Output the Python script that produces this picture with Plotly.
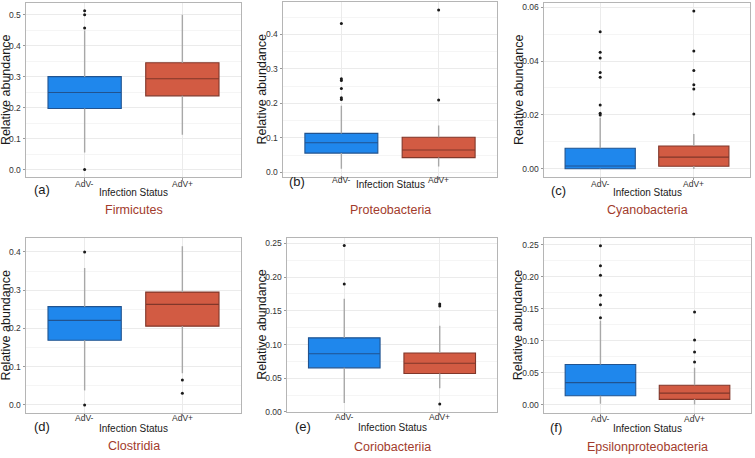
import plotly.graph_objects as go

# ---------------- data ----------------
PANEL_NAMES = ["Firmicutes", "Proteobacteria", "Cyanobacteria",
               "Clostridia", "Coriobacteriia", "Epsilonproteobacteria"]
PANEL_LETTERS = ["(a)", "(b)", "(c)", "(d)", "(e)", "(f)"]
CATEGORIES = ["AdV-", "AdV+"]

# AdV- box statistics
NEG_LOW = [0.055, 0.0105, 0.0000, 0.038, 0.0132, 0.0020]
NEG_Q1 = [0.197, 0.056, 0.0001, 0.169, 0.0654, 0.0143]
NEG_MED = [0.249, 0.086, 0.0011, 0.221, 0.0864, 0.0348]
NEG_Q3 = [0.300, 0.113, 0.0077, 0.257, 0.1099, 0.0630]
NEG_HIGH = [0.449, 0.193, 0.0190, 0.358, 0.1680, 0.1310]
NEG_OUT = [
    [0.513, 0.500, 0.457, 0.0],
    [0.431, 0.271, 0.266, 0.243, 0.216, 0.211],
    [0.0508, 0.0432, 0.0411, 0.0357, 0.0340, 0.0237, 0.0206, 0.0200],
    [0.400, 0.0],
    [0.247, 0.190],
    [0.248, 0.217, 0.202, 0.171, 0.156, 0.136],
]

# AdV+ box statistics
POS_LOW = [0.112, 0.017, 0.0000, 0.083, 0.035, 0.0005]
POS_Q1 = [0.238, 0.043, 0.0010, 0.206, 0.0571, 0.0087]
POS_MED = [0.293, 0.065, 0.0044, 0.263, 0.0723, 0.0184]
POS_Q3 = [0.345, 0.102, 0.0085, 0.295, 0.0874, 0.0307]
POS_HIGH = [0.500, 0.136, 0.0130, 0.415, 0.128, 0.058]
POS_OUT = [
    [],
    [0.470, 0.210],
    [0.0585, 0.0437, 0.0365, 0.0312, 0.0296, 0.0204],
    [0.065, 0.031],
    [0.160, 0.157, 0.0117],
    [0.145, 0.101, 0.0825, 0.067],
]

Y_TICK_STEP = [0.1, 0.1, 0.02, 0.1, 0.05, 0.05]
Y_TICK_FORMAT = [".1f", ".1f", ".2f", ".1f", ".2f", ".2f"]

# ---------------- layout (pixels) ----------------
W, H = 755, 458
FRAMES = [(26, 241, 1.8, 178.8), (283, 497, 1.2, 178.1), (544, 750, 2.2, 178.2),
          (26, 241, 240.4, 417.4), (287, 497, 239.7, 416.4), (544, 751, 240.0, 417.0)]
XLABEL_Y = [185, 181, 185, 423, 422, 424]
LETTER_POS = [(42, 191), (297, 183), (558, 192), (42, 431), (303, 431), (556, 432)]
XTITLE_Y = [194, 186, 194, 433, 432, 433]
SUB_Y = [212, 212, 212, 451, 452, 452]
YTITLE_X = [6, 262, 519, 6, 262, 518]

FONT = "Liberation Sans, Arial, sans-serif"
BLUE, RED = "#1F87EC", "#D25B43"
BLUE_LINE, RED_LINE = "#21538F", "#80372A"
WHISKER = "#A8A8A8"
GRID, MINOR = "#EBEBEB", "#F5F5F5"
FRAME = "#B5B5B5"
SUB_COLOR = "#A23B2C"
TICK_TEXT = "#333333"

fig = go.Figure()
annotations = []


def px_x(v):
    return v / W


def px_y(v):
    return 1 - v / H


for i in range(6):
    sfx = "" if i == 0 else str(i + 1)
    xa, ya = "x" + sfx, "y" + sfx
    stats = [
        (CATEGORIES[0], NEG_LOW[i], NEG_Q1[i], NEG_MED[i], NEG_Q3[i], NEG_HIGH[i], NEG_OUT[i], BLUE, BLUE_LINE),
        (CATEGORIES[1], POS_LOW[i], POS_Q1[i], POS_MED[i], POS_Q3[i], POS_HIGH[i], POS_OUT[i], RED, RED_LINE),
    ]
    for cat, lo, q1, med, q3, hi, outs, fill, lc in stats:
        fig.add_trace(go.Scatter(
            x=[cat, cat, None, cat, cat], y=[lo, q1, None, q3, hi],
            mode="lines", line=dict(color=WHISKER, width=1.4),
            xaxis=xa, yaxis=ya, hoverinfo="skip", showlegend=False))
    for cat, lo, q1, med, q3, hi, outs, fill, lc in stats:
        fig.add_trace(go.Box(
            x=[cat], q1=[q1], median=[med], q3=[q3],
            lowerfence=[q1], upperfence=[q3],
            fillcolor=fill, line=dict(color=lc, width=1.1),
            width=0.75, whiskerwidth=0, boxpoints=False,
            xaxis=xa, yaxis=ya, hoverinfo="skip", showlegend=False))
    for cat, lo, q1, med, q3, hi, outs, fill, lc in stats:
        if outs:
            fig.add_trace(go.Scatter(
                x=[cat] * len(outs), y=outs, mode="markers",
                marker=dict(color="#1A1A1A", size=3),
                xaxis=xa, yaxis=ya, hoverinfo="skip", showlegend=False))

    allv = ([NEG_LOW[i], NEG_HIGH[i], POS_LOW[i], POS_HIGH[i]]
            + NEG_OUT[i] + POS_OUT[i])
    vmin, vmax = min(allv), max(allv)
    pad = 0.05 * (vmax - vmin)
    l, r, t, b = FRAMES[i]
    step = Y_TICK_STEP[i]

    fig.layout["xaxis" + sfx] = dict(
        domain=[px_x(l), px_x(r)], anchor=ya, type="category",
        categoryorder="array", categoryarray=CATEGORIES,
        range=[-0.6, 1.6], showgrid=True, gridcolor=GRID, gridwidth=1,
        ticks="outside", ticklen=2.5, tickcolor="#999999", tickwidth=1,
        showticklabels=False,
        showline=True, mirror=True, linecolor=FRAME, linewidth=1,
        zeroline=False, fixedrange=True)
    fig.layout["yaxis" + sfx] = dict(
        domain=[px_y(b), px_y(t)], anchor=xa,
        range=[vmin - pad, vmax + pad], tick0=0, dtick=step,
        tickformat=Y_TICK_FORMAT[i],
        showgrid=True, gridcolor=GRID, gridwidth=1,
        minor=dict(dtick=step / 2, showgrid=True, gridcolor=MINOR, gridwidth=0.8),
        ticks="outside", ticklen=2.5, tickcolor="#999999", tickwidth=1,
        tickfont=dict(family=FONT, size=8.5, color=TICK_TEXT),
        showline=True, mirror=True, linecolor=FRAME, linewidth=1,
        zeroline=False, fixedrange=True)

    # category tick labels, placed on the category axis scale
    for cat in CATEGORIES:
        annotations.append(dict(
            text=cat, x=cat, xref=xa, y=px_y(XLABEL_Y[i]), yref="paper",
            showarrow=False, xanchor="center", yanchor="middle",
            font=dict(family=FONT, size=8.5, color=TICK_TEXT)))

    cx = (l + r) / 2
    cy = (t + b) / 2
    annotations.append(dict(
        text="Relative abundance", x=px_x(YTITLE_X[i]), y=px_y(cy),
        xref="paper", yref="paper", textangle=-90, showarrow=False,
        xanchor="center", yanchor="middle",
        font=dict(family=FONT, size=12.5, color="#1A1A1A")))
    annotations.append(dict(
        text="Infection Status", x=px_x(cx), y=px_y(XTITLE_Y[i]),
        xref="paper", yref="paper", showarrow=False,
        xanchor="center", yanchor="middle",
        font=dict(family=FONT, size=10, color="#1A1A1A")))
    lx, ly = LETTER_POS[i]
    annotations.append(dict(
        text=PANEL_LETTERS[i], x=px_x(lx), y=px_y(ly),
        xref="paper", yref="paper", showarrow=False,
        xanchor="center", yanchor="middle",
        font=dict(family=FONT, size=13, color="#1A1A1A")))
    annotations.append(dict(
        text=PANEL_NAMES[i], x=px_x(cx), y=px_y(SUB_Y[i]),
        xref="paper", yref="paper", showarrow=False,
        xanchor="center", yanchor="middle",
        font=dict(family=FONT, size=12.5, color=SUB_COLOR)))

fig.update_layout(
    width=W, height=H, margin=dict(l=0, r=0, t=0, b=0),
    paper_bgcolor="white", plot_bgcolor="white",
    boxmode="overlay", showlegend=False, hovermode=False,
    annotations=annotations)

fig.write_html("out.html", config={"displayModeBar": False},
               post_script="document.body.style.margin='0';")
